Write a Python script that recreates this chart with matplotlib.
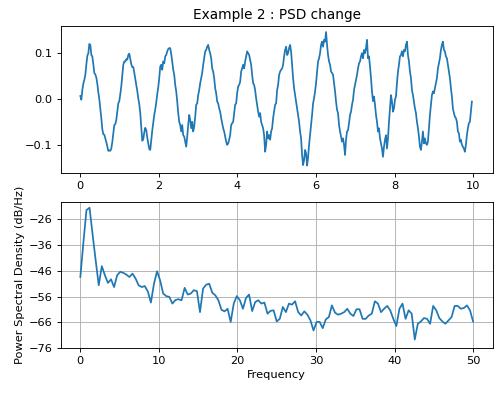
import matplotlib
matplotlib.use("Agg")
import matplotlib.pyplot as plt
import numpy as np

# ── Data ────────────────────────────────────────────────────────────────────
# time signal, one value per pixel column (0 .. ~10 s)
signal = [
    0.007, -0.001, 0.020, 0.034, 0.042, 0.053, 0.075, 0.094, 0.100, 0.120,
    0.118, 0.096, 0.093, 0.076, 0.057, 0.054, 0.047, 0.034, 0.015, 0.000,
    -0.020, -0.041, -0.065, -0.076, -0.077, -0.085, -0.093, -0.103, -0.112, -0.111,
    -0.112, -0.107, -0.093, -0.075, -0.056, -0.054, -0.045, -0.026, -0.009, -0.004,
    0.011, 0.028, 0.051, 0.075, 0.082, 0.082, 0.087, 0.086, 0.096, 0.099,
    0.088, 0.076, 0.070, 0.070, 0.058, 0.044, 0.031, 0.018, 0.002, -0.011,
    -0.030, -0.059, -0.090, -0.087, -0.072, -0.062, -0.067, -0.083, -0.096, -0.108,
    -0.110, -0.088, -0.068, -0.050, -0.034, -0.022, -0.007, 0.011, 0.026, 0.046,
    0.071, 0.075, 0.064, 0.082, 0.078, 0.093, 0.096, 0.104, 0.109, 0.111,
    # 90
    0.111, 0.098, 0.082, 0.064, 0.053, 0.031, 0.017, -0.005, -0.030, -0.049,
    -0.056, -0.070, -0.056, -0.078, -0.081, -0.092, -0.103, -0.081, -0.056, -0.034,
    -0.045, -0.063, -0.049, -0.070, -0.059, -0.038, -0.012, -0.009, 0.009, 0.020,
    0.035, 0.046, 0.057, 0.075, 0.089, 0.104, 0.107, 0.114, 0.118, 0.107,
    0.100, 0.089, 0.067, 0.060, 0.046, 0.024, 0.013, -0.005, -0.009, -0.020,
    -0.027, -0.041, -0.052, -0.063, -0.070, -0.081, -0.092, -0.099, -0.096, -0.088,
    -0.078, -0.056, -0.052, -0.049, -0.030, -0.012, -0.009, 0.013, 0.028, 0.031,
    0.038, 0.060, 0.067, 0.075, 0.067, 0.082, 0.093, 0.104, 0.100, 0.096,
    0.086, 0.075, 0.053, 0.035, 0.031, 0.020, 0.002, -0.012, -0.027, -0.038,
    -0.030, -0.049, -0.056, -0.063, -0.078, -0.114, -0.099, -0.070, -0.085, -0.078,
    # 190
    -0.088, -0.070, -0.063, -0.041, -0.027, -0.012, -0.009, 0.020, 0.031, 0.053,
    0.060, 0.064, 0.067, 0.075, 0.093, 0.107, 0.114, 0.096, 0.100, 0.111,
    0.118, 0.104, 0.075, 0.046, 0.024, 0.009, -0.005, -0.020, -0.034, -0.049,
    -0.070, -0.085, -0.121, -0.143, -0.132, -0.110, -0.117, -0.144, -0.127, -0.099,
    -0.078, -0.056, -0.034, -0.009, 0.002, 0.017, 0.035, 0.060, 0.082, 0.089,
    0.100, 0.118, 0.125, 0.114, 0.129, 0.125, 0.146, 0.118, 0.096, 0.082,
    0.075, 0.060, 0.057, 0.053, 0.035, 0.017, -0.005, -0.023, -0.030, -0.056,
    -0.070, -0.081, -0.092, -0.085, -0.099, -0.121, -0.088, -0.070, -0.067, -0.052,
    -0.034, -0.027, -0.012, -0.001, 0.020, 0.031, 0.042, 0.053, 0.067, 0.078,
    0.082, 0.093, 0.100, 0.089, 0.107, 0.100, 0.111, 0.129, 0.089, 0.093,
    # 290
    0.071, 0.046, 0.017, -0.004, 0.006, -0.012, -0.034, -0.049, -0.070, -0.063,
    -0.085, -0.096, -0.107, -0.125, -0.103, -0.088, -0.078, -0.107, -0.085, -0.049,
    -0.020, 0.009, -0.005, -0.027, -0.020, -0.001, 0.006, 0.035, 0.060, 0.075,
    0.093, 0.096, 0.104, 0.093, 0.107, 0.104, 0.118, 0.125, 0.096, 0.082,
    0.060, 0.046, 0.020, 0.009, -0.005, -0.020, -0.030, -0.049, -0.063, -0.081,
    -0.103, -0.110, -0.092, -0.070, -0.096, -0.085, -0.096, -0.099, -0.092, -0.063,
    -0.034, -0.012, 0.009, 0.017, 0.013, 0.024, 0.035, 0.046, 0.067, 0.078,
    0.089, 0.107, 0.118, 0.125, 0.107, 0.104, 0.093, 0.089, 0.075, 0.060,
    0.046, 0.024, 0.006, -0.020, -0.030, -0.038, -0.041, -0.049, -0.070, -0.074,
    -0.092, -0.088, -0.099, -0.103, -0.107, -0.114, -0.099, -0.078, -0.063, -0.052,
    -0.049, -0.027, -0.005,
]

# power spectral density in dB/Hz, 129 bins from 0 to 50 Hz
psd_db = [
    -48.4, -35.0, -22.5, -21.6, -32.0, -42.0, -51.6, -44.2, -47.7, -50.7,
    -49.3, -52.3, -47.7, -46.4, -46.8, -47.5, -48.4, -47.1, -49.0, -51.6,
    -52.3, -51.9, -54.0, -58.3, -51.0, -46.2, -49.7, -54.8, -55.8, -56.1,
    -58.7, -57.3, -57.0, -57.4, -52.6, -55.2, -54.8, -53.5, -53.9, -62.0,
    -52.9, -51.4, -51.0, -54.5, -55.5, -57.4, -61.1, -61.7, -60.7, -65.8,
    -58.7, -55.8, -57.4, -60.7, -56.5, -55.2, -61.6, -58.1, -57.4, -58.7,
    -58.3, -62.6, -61.5, -61.3, -65.6, -64.6, -60.0, -62.0, -58.7, -59.1,
    -57.8, -62.0, -63.3, -61.7, -63.0, -65.2, -69.1, -65.8, -65.8, -68.2,
    -64.8, -63.9, -59.4, -62.2, -63.0, -62.6, -62.0, -60.7, -62.6, -63.5,
    -60.9, -60.9, -64.6, -64.6, -63.3, -62.6, -57.8, -58.7, -62.0, -60.7,
    -59.6, -61.3, -64.6, -67.4, -60.7, -58.7, -64.6, -61.3, -62.6, -72.6,
    -66.5, -65.6, -64.3, -64.6, -66.5, -59.6, -61.3, -64.3, -65.6, -66.5,
    -65.2, -63.9, -59.6, -59.6, -60.7, -60.4, -59.4, -61.3, -65.6,
]

t = np.linspace(0, 9.97, len(signal))
freqs = np.linspace(0, 50, len(psd_db))

LINE = "#1f77b4"
FS_TICK = 8.2

plt.rcParams.update({
    "axes.linewidth": 0.65,
    "xtick.major.width": 0.65,
    "ytick.major.width": 0.65,
    "xtick.major.size": 2.9,
    "ytick.major.size": 2.9,
    "xtick.major.pad": 2.9,
    "ytick.major.pad": 2.9,
})

fig, (ax1, ax2) = plt.subplots(2, 1, figsize=(5.0, 3.94), dpi=100)
fig.subplots_adjust(left=0.1214, right=0.9854, top=0.934, bottom=0.116,
                    hspace=0.20)

# top: time signal
ax1.plot(t, signal, color=LINE, linewidth=1.25)
ax1.set_xlim(-0.5, 10.5)
ax1.set_ylim(-0.159, 0.159)
ax1.set_xticks([0, 2, 4, 6, 8, 10])
ax1.set_yticks([-0.1, 0.0, 0.1])
ax1.tick_params(labelsize=FS_TICK)
ax1.set_title("Example 2 : PSD change", fontsize=9.8, pad=5)

# bottom: PSD
ax2.plot(freqs, psd_db, color=LINE, linewidth=1.25)
ax2.set_xlim(-2.5, 52.5)
ax2.set_ylim(-76, -19.3)
ax2.set_xticks([0, 10, 20, 30, 40, 50])
ax2.set_yticks(np.arange(-76, -25, 10))
ax2.grid(True, color="#b0b0b0", linewidth=0.65)
ax2.tick_params(labelsize=FS_TICK)
ax2.set_xlabel("Frequency", fontsize=FS_TICK, labelpad=2.5)
ax2.set_ylabel("Power Spectral Density (dB/Hz)", fontsize=FS_TICK, labelpad=3)

fig.savefig("out.png", dpi=100)
